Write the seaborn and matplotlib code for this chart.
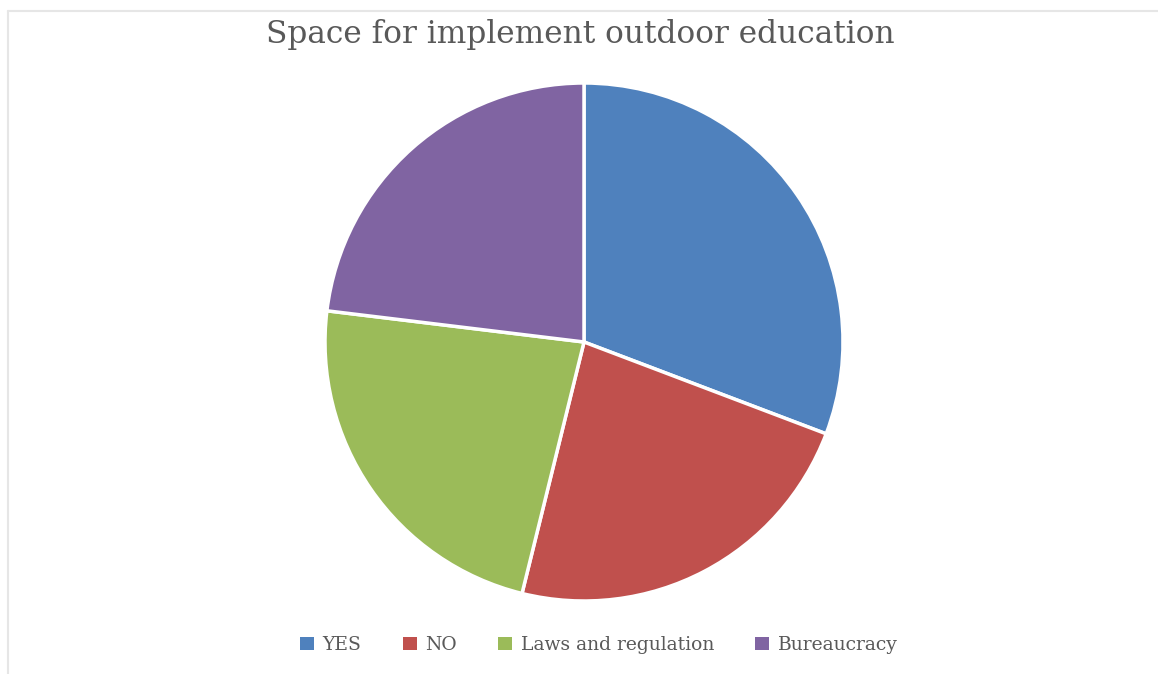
import matplotlib
matplotlib.use("Agg")
import matplotlib.pyplot as plt
import seaborn as sns
from matplotlib.patches import Patch
from matplotlib.lines import Line2D

categories = ["YES", "NO", "Laws and regulation", "Bureaucracy"]
values = [4, 3, 3, 3]
colors = ["#4F81BD", "#C0504D", "#9BBB59", "#8064A2"]
title = "Space for implement outdoor education"

sns.set_theme(style="white")
plt.rcParams['font.family'] = ['DejaVu Serif']

W, H = 1158, 674
fig = plt.figure(figsize=(W / 100, H / 100), dpi=100)
fig.patch.set_facecolor("white")

cx, cy, r = 584, 342, 259
ax = fig.add_axes([(cx - r) / W, (H - cy - r) / H, 2 * r / W, 2 * r / H])
ax.pie(values, colors=colors, startangle=90, counterclock=False,
       wedgeprops=dict(edgecolor="white", linewidth=2.5))
ax.set_xlim(-1.0, 1.0)
ax.set_ylim(-1.0, 1.0)
ax.set_aspect("equal")
ax.axis("off")

fig.text(580 / W, 1 - 35 / H, title, ha="center", va="center",
         fontsize=22.5, color="#595959")

handles = [Patch(facecolor=c, edgecolor="none") for c in colors]
fig.legend(handles, categories, loc="center", bbox_to_anchor=(599 / W, 1 - 645 / H),
           ncol=4, frameon=False, fontsize=13.5, handlelength=0.75, handleheight=0.75,
           handletextpad=0.45, columnspacing=2.2, labelcolor="#595959")

# light frame lines
fig.add_artist(Line2D([8 / W, 1], [1 - 11 / H, 1 - 11 / H], color="#E6E6E6", lw=1.5))
fig.add_artist(Line2D([8 / W, 8 / W], [0, 1 - 11 / H], color="#E6E6E6", lw=1.5))

fig.savefig("out.png", dpi=100)
